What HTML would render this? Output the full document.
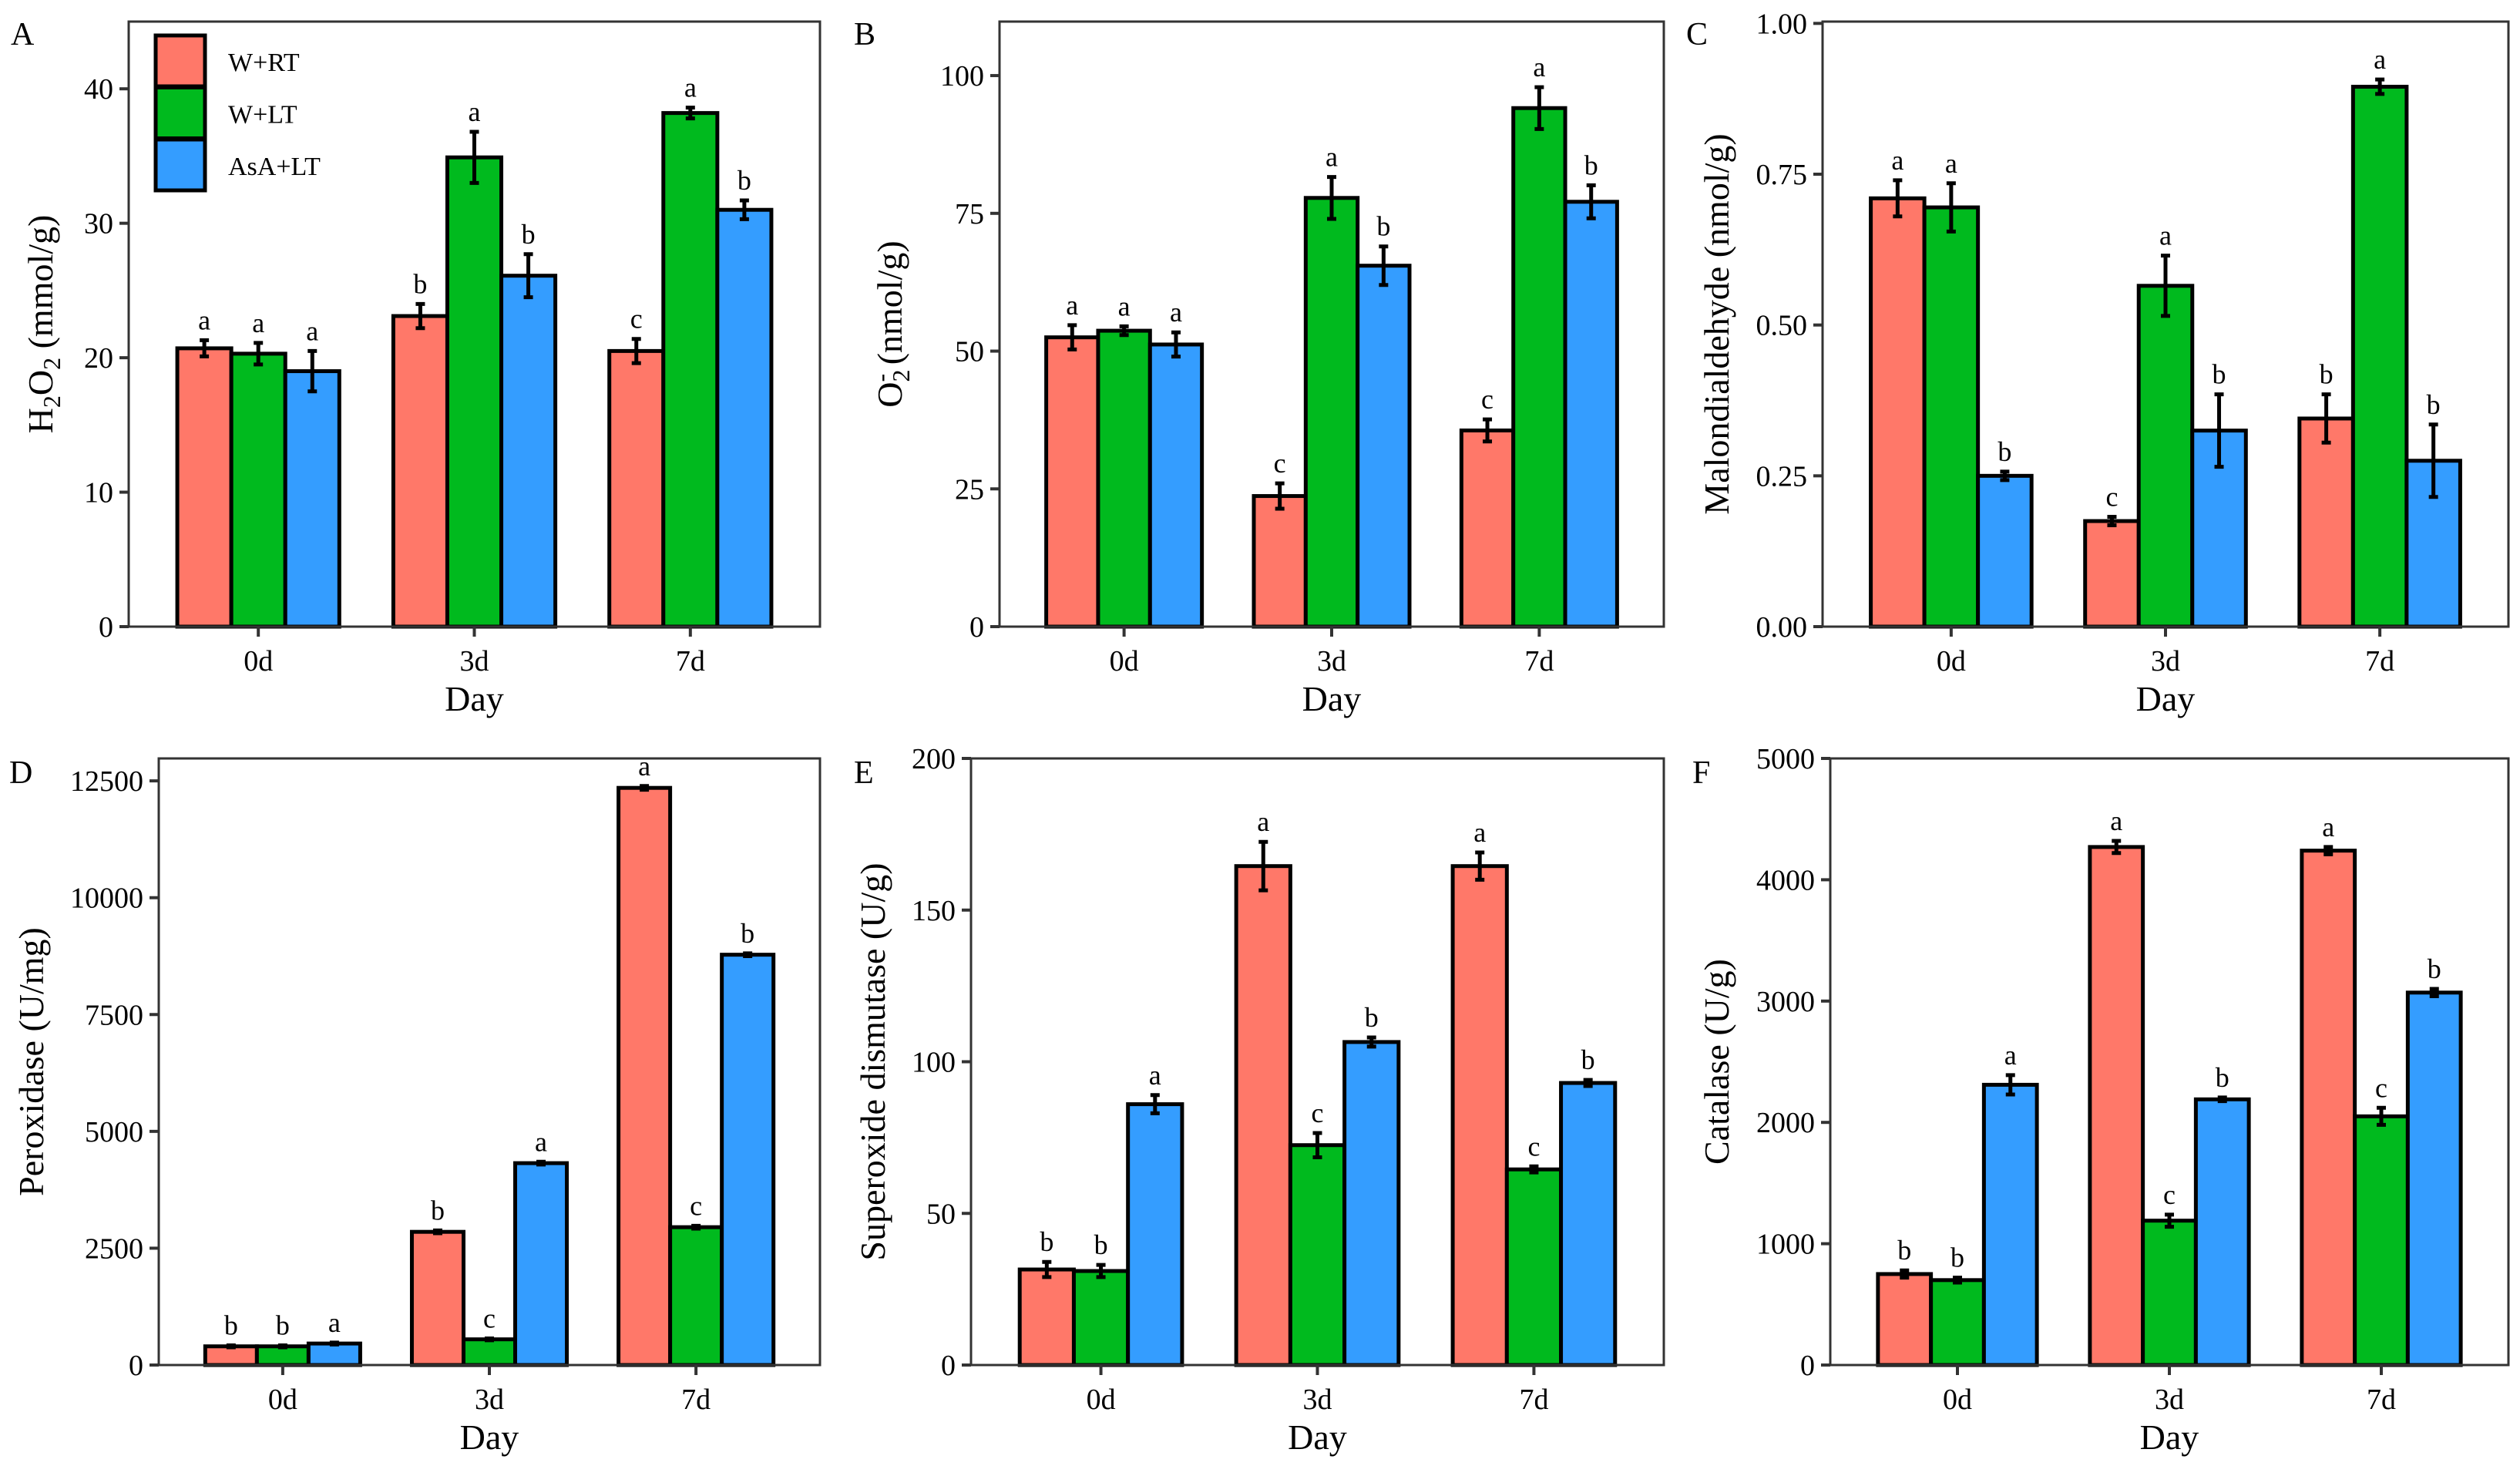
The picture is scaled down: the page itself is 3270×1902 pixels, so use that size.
<!DOCTYPE html>
<html><head><meta charset="utf-8">
<style>
html,body{margin:0;padding:0;background:#fff;}
svg{display:block;font-family:"Liberation Serif","Times New Roman",serif;}
</style></head>
<body>
<svg id="fig" width="3270" height="1902" viewBox="0 0 3270 1902" xmlns="http://www.w3.org/2000/svg"></svg>
<script>
const categories = ["0d","3d","7d"];
const seriesNames = ["W+RT","W+LT","AsA+LT"];
const colors = ["#FF7869","#00BA1E","#349DFF"];

const aVals = [[20.7,23.1,20.5],[20.3,34.9,38.2],[19.0,26.1,31.0]];
const aErr  = [[0.6,0.9,0.9],[0.8,1.9,0.4],[1.5,1.6,0.7]];
const aLet  = [["a","b","c"],["a","a","a"],["a","b","b"]];
const aTicks = [0,10,20,30,40];

const bVals = [[52.5,23.7,35.6],[53.7,77.8,94.1],[51.2,65.5,77.1]];
const bErr  = [[2.2,2.3,2.0],[0.8,3.8,3.8],[2.2,3.5,3.0]];
const bLet  = [["a","c","c"],["a","a","a"],["a","b","b"]];
const bTicks = [0,25,50,75,100];

const cVals = [[0.71,0.175,0.345],[0.695,0.565,0.895],[0.25,0.325,0.275]];
const cErr  = [[0.03,0.007,0.04],[0.04,0.05,0.012],[0.007,0.06,0.06]];
const cLet  = [["a","c","b"],["a","a","a"],["b","b","b"]];
const cTicks = [0,0.25,0.5,0.75,1.0];

const dVals = [[400,2850,12350],[400,550,2950],[460,4320,8780]];
const dErr  = [[20,30,40],[20,20,30],[20,30,30]];
const dLet  = [["b","b","a"],["b","c","c"],["a","a","b"]];
const dTicks = [0,2500,5000,7500,10000,12500];

const eVals = [[31.5,164.5,164.5],[31,72.5,64.5],[86,106.5,93]];
const eErr  = [[2.5,8,4.5],[2,4,1],[3,1.5,1]];
const eLet  = [["b","a","a"],["b","c","c"],["a","b","b"]];
const eTicks = [0,50,100,150,200];

const fVals = [[750,4270,4240],[700,1190,2050],[2310,2190,3070]];
const fErr  = [[30,50,30],[20,50,70],[80,15,30]];
const fLet  = [["b","a","a"],["b","c","c"],["a","b","b"]];
const fTicks = [0,1000,2000,3000,4000,5000];

const NS="http://www.w3.org/2000/svg";
const svg=document.getElementById('fig');
function mk(tag,attrs,parent){const e=document.createElementNS(NS,tag);for(const k in attrs)e.setAttribute(k,attrs[k]);(parent||svg).appendChild(e);return e;}

function panel(cfg){
  const g=mk('g',{});
  
  
  const L=cfg.l,R=cfg.r,T=cfg.t,B=cfg.b;
  const yS=v=>B-(v/cfg.ymax)*(B-T);
  const u=(R-L)/3.2;
  const xC=i=>L+(i+0.6)*u;
  const bw=0.25*u;
  // bars
  for(let s=0;s<3;s++){
    for(let i=0;i<3;i++){
      const v=cfg.vals[s][i];
      const x=xC(i)+(s-1)*bw-bw/2;
      const r=mk('rect',{x:x,y:yS(v),width:bw,height:B-yS(v),fill:colors[s],stroke:'#000','stroke-width':5},g);
      
      
      const cx=xC(i)+(s-1)*bw, e=cfg.err[s][i];
      const eb=mk('path',{d:`M${cx},${yS(v-e)}V${yS(v+e)}M${cx-6},${yS(v-e)}H${cx+6}M${cx-6},${yS(v+e)}H${cx+6}`,stroke:'#000','stroke-width':5,fill:'none'},g);
      
      
      const t=mk('text',{x:cx,y:yS(v+e)-14,'text-anchor':'middle','font-size':36},g);
      t.textContent=cfg.lets[s][i];
      
      
    }
  }
  // frame
  const fr=mk('rect',{x:L,y:T,width:R-L,height:B-T,fill:'none',stroke:'#333','stroke-width':3},g);
  
  
  // y ticks
  cfg.ticks.forEach(v=>{
    const y=yS(v);
    mk('line',{x1:L-12,x2:L,y1:y,y2:y,stroke:'#333','stroke-width':4},g);
    const t=mk('text',{x:L-20,y:y+13,'text-anchor':'end','font-size':38},g);
    t.textContent=cfg.fmt?cfg.fmt(v):String(v);
    
    
  });
  // x ticks
  categories.forEach((c,i)=>{
    const x=xC(i);
    mk('line',{x1:x,x2:x,y1:B,y2:B+13,stroke:'#333','stroke-width':4},g);
    const t=mk('text',{x:x,y:B+57,'text-anchor':'middle','font-size':38},g);
    t.textContent=c;
    
    
  });
  const xt=mk('text',{x:(L+R)/2,y:B+109,'text-anchor':'middle','font-size':46},g);
  xt.textContent='Day';
  
  
  const yt=mk('text',{x:0,y:0,'text-anchor':'middle','font-size':46,transform:`translate(${cfg.ytx},${(T+B)/2}) rotate(-90)`},g);
  yt.innerHTML=cfg.ytitle;
  
  
  const pl=mk('text',{x:cfg.lx,y:cfg.ly,'font-size':42},g);
  pl.textContent=cfg.id;
  
  
}

panel({id:'A',l:167,r:1064,t:28,b:813,ymax:45,vals:aVals,err:aErr,lets:aLet,ticks:aTicks,ytx:68,lx:14,ly:58,
  ytitle:'H<tspan font-size="32" dy="10">2</tspan><tspan dy="-10">O</tspan><tspan font-size="32" dy="10">2</tspan><tspan dy="-10"> (mmol/g)</tspan>'});
panel({id:'B',l:1297,r:2159,t:28,b:813,ymax:109.8,vals:bVals,err:bErr,lets:bLet,ticks:bTicks,ytx:1170,lx:1108,ly:58,
  ytitle:'O<tspan font-size="32" dy="10">2</tspan><tspan font-size="32" dx="-16" dy="-26">-</tspan><tspan dy="16">  (nmol/g)</tspan>'});
panel({id:'C',l:2365,r:3255,t:28,b:813,ymax:1.003,vals:cVals,err:cErr,lets:cLet,ticks:cTicks,ytx:2243,lx:2188,ly:58,
  fmt:v=>v.toFixed(2),ytitle:'Malondialdehyde (nmol/g)'});
panel({id:'D',l:206,r:1064,t:984,b:1771,ymax:12980,vals:dVals,err:dErr,lets:dLet,ticks:dTicks,ytx:56,lx:12,ly:1016,
  ytitle:'Peroxidase (U/mg)'});
panel({id:'E',l:1260,r:2159,t:984,b:1771,ymax:200,vals:eVals,err:eErr,lets:eLet,ticks:eTicks,ytx:1148,lx:1108,ly:1016,
  ytitle:'Superoxide dismutase (U/g)'});
panel({id:'F',l:2375,r:3255,t:984,b:1771,ymax:5000,vals:fVals,err:fErr,lets:fLet,ticks:fTicks,ytx:2243,lx:2196,ly:1016,
  ytitle:'Catalase (U/g)'});

// legend
const lg=mk('g',{});


seriesNames.forEach((n,s)=>{
  const y=46+s*67.5;
  const r=mk('rect',{x:202,y:y,width:64,height:66,fill:colors[s],stroke:'#000','stroke-width':5},lg);
  
  
  const t=mk('text',{x:296,y:y+46,'font-size':34},lg);
  t.textContent=n;
  
  
});
</script>
</body></html>
